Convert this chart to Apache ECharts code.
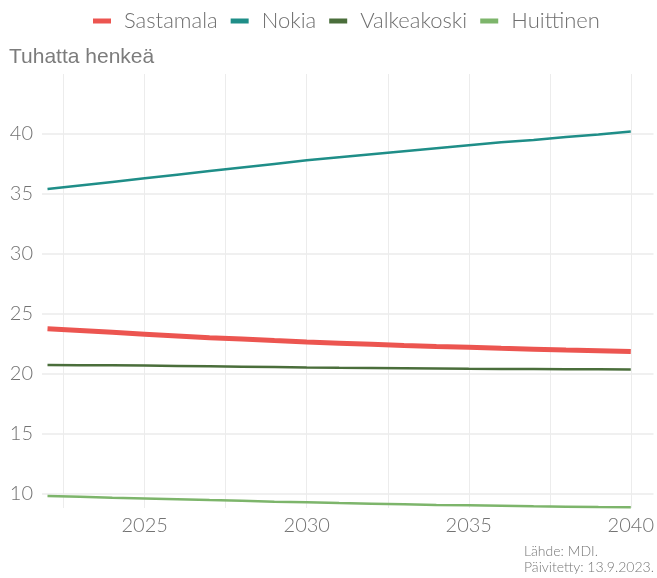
<!DOCTYPE html>
<html>
<head>
<meta charset="utf-8">
<script src="https://cdn.jsdelivr.net/npm/echarts@6/dist/echarts.min.js"></script>
<style>
  html, body { margin: 0; padding: 0; background: #fff; }
  #chart { width: 657px; height: 578px; }
</style>
</head>
<body>
<div id="chart"></div>
<script>
var years = [2022, 2023, 2024, 2025, 2026, 2027, 2028, 2029, 2030, 2031,
             2032, 2033, 2034, 2035, 2036, 2037, 2038, 2039, 2040];
var sastamala = [23.75, 23.6, 23.45, 23.3, 23.15, 23.0, 22.9, 22.77, 22.65, 22.55,
                 22.45, 22.35, 22.27, 22.2, 22.12, 22.05, 21.98, 21.92, 21.85];
var nokia = [35.4, 35.7, 36.0, 36.3, 36.6, 36.9, 37.2, 37.5, 37.8, 38.05,
             38.3, 38.55, 38.8, 39.05, 39.3, 39.5, 39.75, 39.95, 40.2];
var valkeakoski = [20.72, 20.71, 20.7, 20.68, 20.65, 20.62, 20.59, 20.56, 20.52, 20.49,
                   20.47, 20.45, 20.43, 20.41, 20.4, 20.39, 20.38, 20.37, 20.36];
var huittinen = [9.8, 9.73, 9.66, 9.6, 9.53, 9.46, 9.4, 9.33, 9.27, 9.21,
                 9.16, 9.11, 9.06, 9.02, 8.98, 8.94, 8.91, 8.88, 8.86];
var xTicks = [2025, 2030, 2035, 2040];
var xGrid = [2022.5, 2025, 2027.5, 2030, 2032.5, 2035, 2037.5, 2040];
var yTicks = [10, 15, 20, 25, 30, 35, 40];

function pairs(arr) {
	return years.map(function(y, i) { return [y, arr[i]]; });
}

var myChart = echarts.init(document.getElementById('chart'));
var option = {
	backgroundColor: '#fff',
	animation: false,
	textStyle: { fontFamily: 'Lato', fontWeight: 300 },
	legend: {
		left: 88,
		top: 5,
		icon: 'rect',
		itemWidth: 18,
		itemHeight: 5,
		itemGap: 13,
		textStyle: {
			color: '#6f6f6f', fontSize: 22, fontFamily: 'Lato', fontWeight: 300,
			padding: [0, 0, 0, 8]
		},
		data: ['Sastamala', 'Nokia', 'Valkeakoski', 'Huittinen']
	},
	graphic: [{
		type: 'text',
		left: 9,
		top: 47,
		style: { text: 'Tuhatta henkeä', fill: '#7c7c7c', font: '21px "Liberation Sans", Arial' }
	}, {
		type: 'text',
		right: 3,
		top: 543,
		style: {
			text: 'Lähde: MDI.\nPäivitetty: 13.9.2023.',
			fill: '#777',
			font: '300 14px Lato',
			align: 'right',
			lineHeight: 16
		}
	}],
	grid: { left: 42, right: 2, top: 74, height: 434, containLabel: false },
	xAxis: {
		type: 'value',
		min: 2021.83,
		max: 2040.7,
		axisLine: { show: false },
		axisTick: { show: false, customValues: xGrid },
		splitLine: { show: true, lineStyle: { color: '#ececec', width: 1 } },
		axisLabel: {
			customValues: xTicks,
			color: '#737373',
			fontSize: 20,
			fontWeight: 300,
			margin: 8,
			formatter: function(v) { return String(v); }
		}
	},
	yAxis: {
		type: 'value',
		min: 8.8,
		max: 45,
		axisLine: { show: false },
		axisTick: { show: false, customValues: yTicks },
		splitLine: { show: true, lineStyle: { color: '#f0f0f0', width: 2 } },
		axisLabel: {
			customValues: yTicks,
			color: '#737373',
			fontSize: 20,
			fontWeight: 300,
			margin: 9
		}
	},
	series: [{
		name: 'Sastamala',
		type: 'line',
		showSymbol: false,
		color: '#ec5550',
		lineStyle: { width: 5 },
		data: pairs(sastamala)
	}, {
		name: 'Nokia',
		type: 'line',
		showSymbol: false,
		color: '#1f8e88',
		lineStyle: { width: 2.5 },
		data: pairs(nokia)
	}, {
		name: 'Valkeakoski',
		type: 'line',
		showSymbol: false,
		color: '#4a6e3b',
		lineStyle: { width: 2.5 },
		data: pairs(valkeakoski)
	}, {
		name: 'Huittinen',
		type: 'line',
		showSymbol: false,
		color: '#7db56b',
		lineStyle: { width: 2.5 },
		data: pairs(huittinen)
	}]
};
myChart.setOption(option);
</script>
</body>
</html>
